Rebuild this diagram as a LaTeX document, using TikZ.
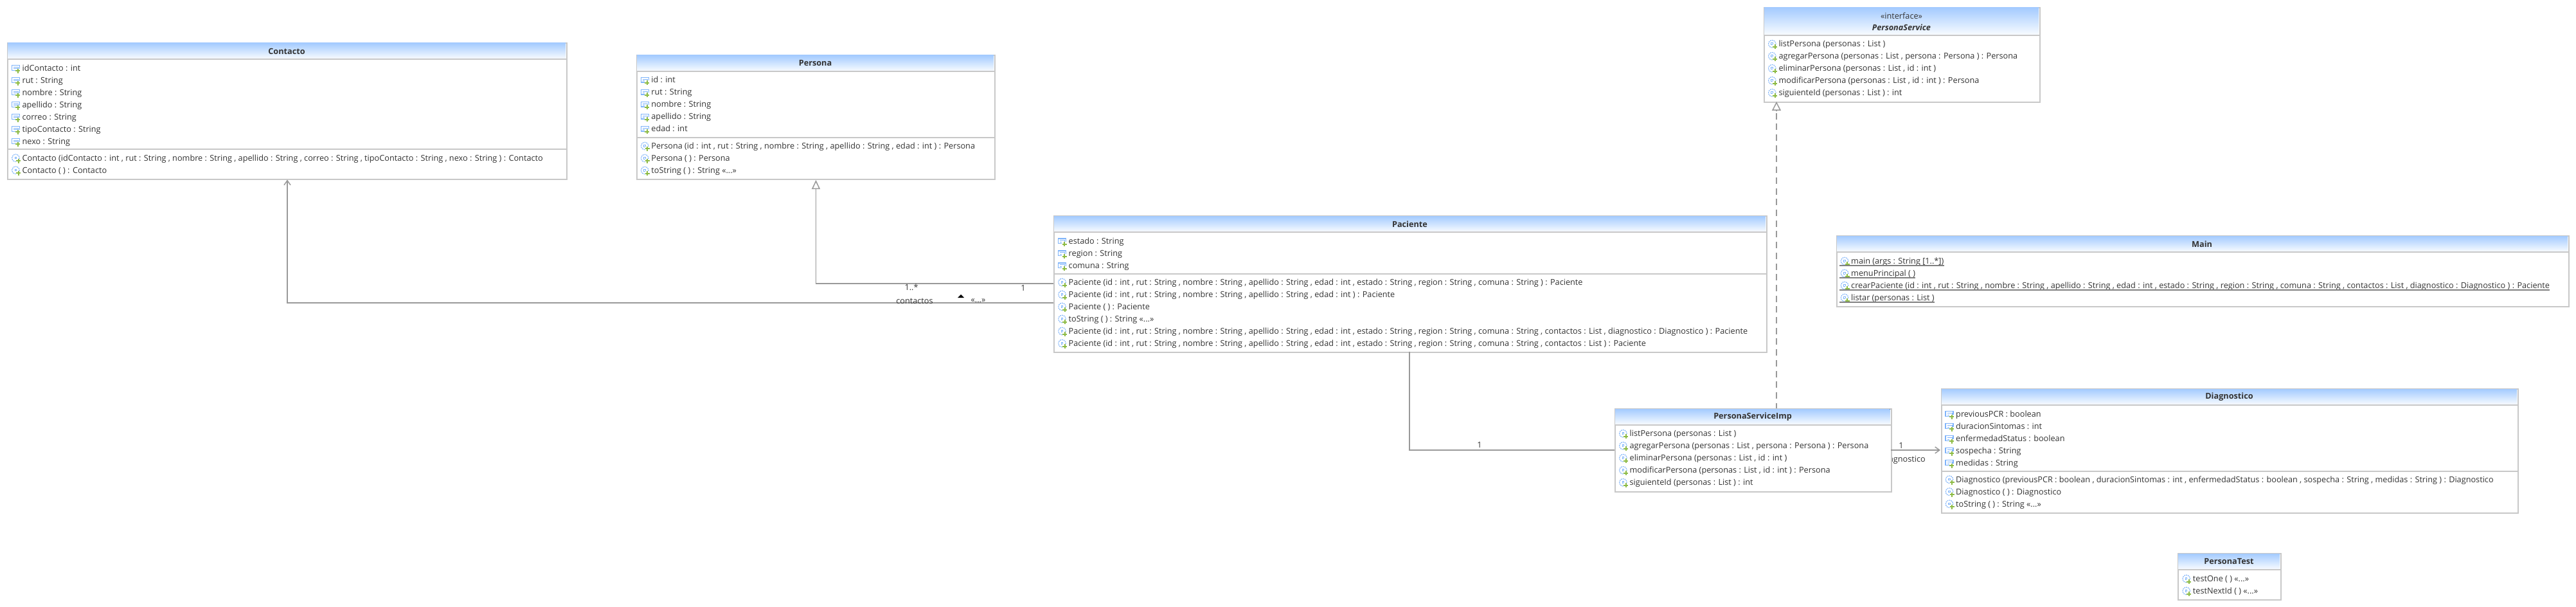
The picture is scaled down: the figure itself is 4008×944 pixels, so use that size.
\documentclass[tikz,border=0pt]{standalone}
\usepackage{fontspec}
\setmainfont{Open Sans}
\usetikzlibrary{arrows.meta, calc}
\definecolor{line-gray}{HTML}{C8C8C8}
\definecolor{conn-gray}{HTML}{999999}
\definecolor{text-gray}{HTML}{333333}
\definecolor{head-blue}{HTML}{A4CBFF}
\definecolor{icon-blue}{HTML}{7FB4FA}
\definecolor{icon-green}{HTML}{8DBB45}
\tikzset{
    classbox/.style={draw=line-gray, line width=2pt, fill=white, anchor=north west, inner sep=0pt},
    rowtext/.style={anchor=base west, inner sep=0pt, text=text-gray, font=\fontsize{12.7}{14}\selectfont},
    titletext/.style={inner sep=0pt, text=text-gray, font=\fontsize{12.7}{14}\selectfont\bfseries},
    headfill/.style={top color=head-blue, bottom color=white!95!head-blue},
    seprow/.style={line-gray, line width=1.2pt},
    conn/.style={conn-gray, line width=1.5pt},
    endtext/.style={inner sep=0pt, text=text-gray, font=\fontsize{12.7}{14}\selectfont},
    fieldicon/.pic={
        \draw[icon-blue, line width=1.2pt] (-1,-4) rectangle (11,3.5);
        \draw[icon-blue, line width=.8pt] (1.5,-1.5) -- (9,-1.5) -- (9,1.2) -- (1.5,1.2);
        \fill[white] (4.5,1) rectangle (12.5,8.5);
        \draw[icon-green, line width=2pt] (5,4.5) -- (12,4.5) (8.5,1) -- (8.5,8);
    },
    methodicon/.pic={
        \draw[icon-blue, line width=1.2pt, dash pattern=on 1.8pt off 1.1pt] (5,0) circle [radius=5.7];
        \draw[icon-blue, line width=.8pt] (3.5,-1.5) rectangle (6,1);
        \fill[white] (5.5,1) rectangle (13,8.5);
        \draw[icon-green, line width=2pt] (5.7,4.5) -- (12.7,4.5) (9.2,1) -- (9.2,8);
    },
}
% one class: name, corners, bottom of the head
\newcommand{\classframe}[6]{
    \node[classbox, minimum width=#4-#2 pt, minimum height=#5-#3 pt] (#1) at (#2,#3) {};
    \fill[headfill] (#2+1,#3+1) rectangle (#4-1,#6);
    \draw[seprow] (#2,#6) -- (#4,#6);
}
% rows of one compartment: name, icon, text x, first y, texts
\newcommand{\classrows}[5]{
    \foreach \rowtxt [count=\i] in {#5} {
        \pic at (#3-15,#4-4.5+\i*19) {#2};
        \node[rowtext] (#1-\i) at (#3,#4+\i*19) {\rowtxt};
    }
}
% dots inside a foreach list have to be hidden
\newcommand{\elided}{«...»}
\newcommand{\argrange}{[1..*]}
\begin{document}
\begin{tikzpicture}[x=1pt, y=-1pt]
    % Page size
    \useasboundingbox (0,0) rectangle (4008,944);
    % Diagnostico role label, sits under the impl box
    \node[endtext, anchor=base east] (roleDiag) at (2996,718) {diagnostico};

    % Contacto
    \classframe{contacto}{11}{66}{881}{277.5}{92}
    \node[titletext] (contactoName) at (446,79.5) {Contacto};
    \classrows{contactoF}{fieldicon}{34.4}{91.2}{{idContacto : int}, {rut : String}, {nombre : String}, {apellido : String}, {correo : String}, {tipoContacto : String}, {nexo : String}}
    \draw[seprow] (11,232) -- (881,232);
    \classrows{contactoM}{methodicon}{34.4}{231.2}{{Contacto (idContacto : int , rut : String , nombre : String , apellido : String , correo : String , tipoContacto : String , nexo : String ) : Contacto}, {Contacto ( ) : Contacto}}

    % Persona
    \classframe{persona}{990}{85}{1547}{278}{111}
    \node[titletext] (personaName) at (1268.5,98.5) {Persona};
    \classrows{personaF}{fieldicon}{1013.2}{110}{{id : int}, {rut : String}, {nombre : String}, {apellido : String}, {edad : int}}
    \draw[seprow] (990,214) -- (1547,214);
    \classrows{personaM}{methodicon}{1013.2}{212.5}{{Persona (id : int , rut : String , nombre : String , apellido : String , edad : int ) : Persona}, {Persona ( ) : Persona}, {toString ( ) : String \elided}}

    % Paciente
    \classframe{paciente}{1639}{335}{2748}{547}{361}
    \node[titletext] (pacienteName) at (2193.5,348.5) {Paciente};
    \classrows{pacienteF}{fieldicon}{1662.5}{360.5}{{estado : String}, {region : String}, {comuna : String}}
    \draw[seprow] (1639,426) -- (2748,426);
    \classrows{pacienteM}{methodicon}{1662.5}{424.5}{{Paciente (id : int , rut : String , nombre : String , apellido : String , edad : int , estado : String , region : String , comuna : String ) : Paciente}, {Paciente (id : int , rut : String , nombre : String , apellido : String , edad : int ) : Paciente}, {Paciente ( ) : Paciente}, {toString ( ) : String \elided}, {Paciente (id : int , rut : String , nombre : String , apellido : String , edad : int , estado : String , region : String , comuna : String , contactos : List , diagnostico : Diagnostico ) : Paciente}, {Paciente (id : int , rut : String , nombre : String , apellido : String , edad : int , estado : String , region : String , comuna : String , contactos : List ) : Paciente}}

    % PersonaService
    \classframe{service}{2744}{11}{3173}{158}{55}
    \node[titletext, font=\fontsize{12.7}{14}\selectfont] (serviceTag) at (2958.5,25) {«interface»};
    \node[titletext, font=\fontsize{12.7}{14}\selectfont\bfseries\itshape] (serviceName) at (2958.5,42.5) {PersonaService};
    \classrows{serviceM}{methodicon}{2767.3}{53.8}{{listPersona (personas : List )}, {agregarPersona (personas : List , persona : Persona ) : Persona}, {eliminarPersona (personas : List , id : int )}, {modificarPersona (personas : List , id : int ) : Persona}, {siguienteId (personas : List ) : int}}

    % Main
    \classframe{main}{2857}{366}{3996}{476}{392}
    \node[titletext] (mainName) at (3426,379.5) {Main};
    \classrows{mainM}{methodicon}{2880}{391.5}{{main (args : String \argrange)}, {menuPrincipal ( )}, {crearPaciente (id : int , rut : String , nombre : String , apellido : String , edad : int , estado : String , region : String , comuna : String , contactos : List , diagnostico : Diagnostico ) : Paciente}, {listar (personas : List )}}
    \foreach \i in {1,2,3,4} {
        \draw[gray, line width=1.5pt] ([xshift=-18pt, yshift=-2.5pt]mainM-\i.base west) -- ([yshift=-2.5pt]mainM-\i.base east);
    }

    % PersonaServiceImp
    \classframe{impl}{2512}{635}{2941.5}{764}{661}
    \node[titletext] (implName) at (2727,648.5) {PersonaServiceImp};
    \classrows{implM}{methodicon}{2535.4}{659.8}{{listPersona (personas : List )}, {agregarPersona (personas : List , persona : Persona ) : Persona}, {eliminarPersona (personas : List , id : int )}, {modificarPersona (personas : List , id : int ) : Persona}, {siguienteId (personas : List ) : int}}

    % Diagnostico
    \classframe{diag}{3020}{604}{3917}{797}{630}
    \node[titletext] (diagName) at (3468.5,617.5) {Diagnostico};
    \classrows{diagF}{fieldicon}{3043}{629.2}{{previousPCR : boolean}, {duracionSintomas : int}, {enfermedadStatus : boolean}, {sospecha : String}, {medidas : String}}
    \draw[seprow] (3020,733) -- (3917,733);
    \classrows{diagM}{methodicon}{3043}{731.2}{{Diagnostico (previousPCR : boolean , duracionSintomas : int , enfermedadStatus : boolean , sospecha : String , medidas : String ) : Diagnostico}, {Diagnostico ( ) : Diagnostico}, {toString ( ) : String \elided}}

    % PersonaTest
    \classframe{test}{3388}{860}{3548}{932}{886}
    \node[titletext] (testName) at (3468,873) {PersonaTest};
    \classrows{testM}{methodicon}{3411.7}{885.5}{{testOne ( ) \elided}, {testNextId ( ) \elided}}

    % Paciente to Persona generalization
    \coordinate (pacienteUp) at (1639,441);
    \draw[conn, -{Triangle[open, fill=white, length=14pt, width=13pt]}] (pacienteUp) -| (persona.south);
    % Paciente to Contacto association
    \coordinate (pacienteLeft) at (1639,471);
    \draw[conn, -{Straight Barb[length=7pt, width=10pt]}] (pacienteLeft) -| (contacto.south);
    % Imp to PersonaService realization
    \coordinate (implTop) at (2764,635);
    \coordinate (serviceDash) at (2764,175.7);
    \coordinate (serviceBase) at (2764,173);
    \coordinate (serviceTip) at (2764,158);
    \draw[conn, dash pattern=on 10pt off 6.7pt] (serviceDash) -- (implTop);
    \draw[conn, -{Triangle[open, fill=white, length=14pt, width=14pt]}] (serviceBase) -- (serviceTip);
    % Paciente to Imp association
    \coordinate (pacienteDown) at (2193,547);
    \coordinate (implLeft) at (2512,700);
    \draw[conn] (pacienteDown) |- (implLeft);
    % Imp to Diagnostico association
    \coordinate (implRight) at (2941.5,700);
    \coordinate (diagLeft) at (3019,700);
    \draw[conn, -{Straight Barb[length=7pt, width=10pt]}] (implRight) -- (diagLeft);

    % Connector labels
    \node[endtext] (endManyC) at (1418,447) {1..*};
    \node[endtext] (endOneC) at (1592,448) {1};
    \node[endtext] (roleContactos) at (1423,468) {contactos};
    \node[endtext] (roleDots) at (1522,468) {«...»};
    \fill[black] (1490,463) -- (1495,458) -- (1500,463) -- cycle;
    \node[endtext] (endOneP) at (2302,692) {1};
    \node[endtext] (endOneD) at (2958,693) {1};
\end{tikzpicture}
\end{document}
